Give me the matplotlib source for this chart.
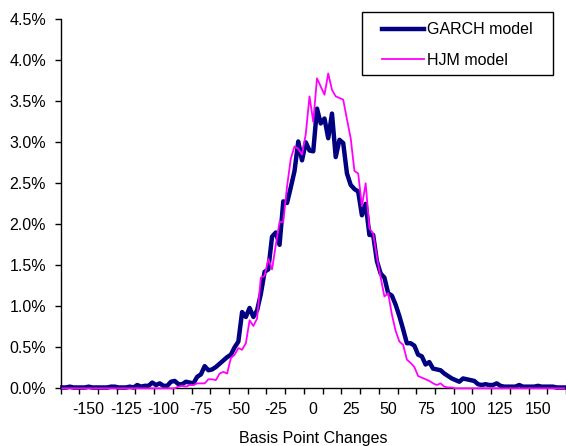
import numpy as np
import matplotlib
matplotlib.use("Agg")
import matplotlib.pyplot as plt
from matplotlib.patches import Rectangle
from matplotlib.ticker import FixedLocator, FuncFormatter

plt.rcParams['font.family'] = ['Liberation Sans', 'DejaVu Sans']
plt.rcParams['axes.unicode_minus'] = False

# Basis point change categories (step 2.5)
bp = np.arange(-167.5, 167.5 + 0.01, 2.5)

garch = [
    0.01, 0.01, 0.02, 0.01, 0.01, 0.01, 0.01, 0.02, 0.01, 0.01,
    0.01, 0.01, 0.01, 0.02, 0.02, 0.01, 0.01, 0.01, 0.02, 0.01,
    0.04, 0.02, 0.03, 0.03, 0.07, 0.04, 0.06, 0.03, 0.03, 0.08,
    0.09, 0.05, 0.05, 0.08, 0.07, 0.06, 0.14, 0.17, 0.27, 0.22,
    0.23, 0.26, 0.30, 0.34, 0.38, 0.41, 0.50, 0.57, 0.93, 0.87,
    0.98, 0.87, 0.95, 1.15, 1.42, 1.45, 1.85, 1.90, 1.75, 2.28,
    2.26, 2.45, 2.65, 3.01, 2.78, 3.00, 2.90, 2.89, 3.41, 3.23,
    3.29, 3.05, 3.35, 2.82, 3.03, 2.99, 2.62, 2.48, 2.43, 2.40,
    2.11, 2.25, 1.87, 1.87, 1.55, 1.40, 1.35, 1.16, 1.13, 1.02,
    0.88, 0.72, 0.55, 0.55, 0.52, 0.41, 0.39, 0.29, 0.32, 0.24,
    0.23, 0.22, 0.18, 0.15, 0.12, 0.10, 0.08, 0.12, 0.11, 0.10,
    0.09, 0.05, 0.04, 0.05, 0.04, 0.04, 0.06, 0.03, 0.02, 0.02,
    0.02, 0.02, 0.04, 0.02, 0.02, 0.02, 0.02, 0.03, 0.02, 0.02,
    0.02, 0.02, 0.01, 0.01, 0.01,
]

hjm = [
    0.00, 0.00, 0.00, 0.00, 0.00, 0.00, 0.00, 0.00, 0.00, 0.00,
    0.00, 0.00, 0.00, 0.00, 0.00, 0.00, 0.00, 0.00, 0.00, 0.00,
    0.00, 0.00, 0.00, 0.00, 0.00, 0.00, 0.00, 0.00, 0.00, 0.00,
    0.00, 0.02, 0.03, 0.02, 0.04, 0.04, 0.06, 0.06, 0.06, 0.11,
    0.11, 0.10, 0.18, 0.20, 0.18, 0.37, 0.41, 0.49, 0.47, 0.55,
    0.83, 0.76, 0.85, 1.35, 1.37, 1.58, 1.45, 1.75, 2.03, 2.03,
    2.46, 2.80, 2.95, 2.92, 2.85, 3.10, 3.56, 3.25, 3.78, 3.68,
    3.58, 3.84, 3.64, 3.56, 3.54, 3.52, 3.28, 3.05, 2.65, 2.62,
    2.22, 2.50, 1.95, 1.89, 1.60, 1.35, 1.12, 1.16, 0.90, 0.70,
    0.57, 0.53, 0.35, 0.31, 0.26, 0.15, 0.13, 0.11, 0.09, 0.06,
    0.04, 0.06, 0.02, 0.01, 0.01, 0.00, 0.00, 0.00, 0.00, 0.00,
    0.00, 0.00, 0.00, 0.00, 0.00, 0.00, 0.00, 0.00, 0.00, 0.00,
    0.00, 0.00, 0.00, 0.00, 0.00, 0.00, 0.00, 0.00, 0.00, 0.00,
    0.00, 0.00, 0.00, 0.00, 0.00,
]

series_names = ["GARCH model", "HJM model"]
x_labels = [-150, -125, -100, -75, -50, -25, 0, 25, 50, 75, 100, 125, 150]
y_ticks = [0.0, 0.5, 1.0, 1.5, 2.0, 2.5, 3.0, 3.5, 4.0, 4.5]

assert len(garch) == len(bp) and len(hjm) == len(bp)

W, H = 566, 446
fig = plt.figure(figsize=(W / 100, H / 100), dpi=100)
ax = fig.add_axes([60.5 / W, 1 - 388.3 / H, (566 - 60.5) / W, (388.3 - 19.3) / H])

ax.plot(bp, hjm, color='#FF00FF', lw=1.3, clip_on=False, zorder=3,
        label=series_names[1])
ax.plot(bp, garch, color='#000080', lw=3.2, clip_on=False, zorder=2,
        label=series_names[0], solid_joinstyle='round')

ax.set_xlim(-168.75, 168.75)
ax.set_ylim(0, 4.5)

ax.spines['top'].set_visible(False)
ax.spines['right'].set_visible(False)
for s in ('left', 'bottom'):
    ax.spines[s].set_color('black')
    ax.spines[s].set_linewidth(1.0)

ax.set_yticks(y_ticks)
ax.yaxis.set_major_formatter(FuncFormatter(lambda v, p: f"{v:.1f}%"))
ax.tick_params(axis='y', direction='out', length=4.5, width=1, pad=6,
               labelsize=11.5, colors='black')

ax.xaxis.set_major_locator(FixedLocator(x_labels))
ax.xaxis.set_minor_locator(FixedLocator(np.arange(-168.75, 168.76, 12.5)))
ax.tick_params(axis='x', which='major', length=0, pad=10, labelsize=11.5)
ax.tick_params(axis='x', which='minor', direction='out', length=4.5, width=1,
               colors='black')

ax.set_xlabel("Basis Point Changes", fontsize=11.5, labelpad=10)

# Legend frame
rect = Rectangle((362 / W, 1 - 75 / H), (553 - 362) / W, (75 - 12) / H,
                 transform=fig.transFigure, facecolor='white',
                 edgecolor='black', linewidth=1.0, zorder=5)
fig.add_artist(rect)

handles, labels = ax.get_legend_handles_labels()
order = [1, 0]
leg = fig.legend([handles[i] for i in order], [labels[i] for i in order],
                 loc='upper left', bbox_to_anchor=(382 / W, 1 - 22.5 / H),
                 bbox_transform=fig.transFigure, frameon=False,
                 borderpad=0, borderaxespad=0, handlelength=2.6,
                 handletextpad=0.2, labelspacing=0.97, fontsize=11.5)
leg.set_zorder(6)

fig.savefig("out.png", dpi=100)
